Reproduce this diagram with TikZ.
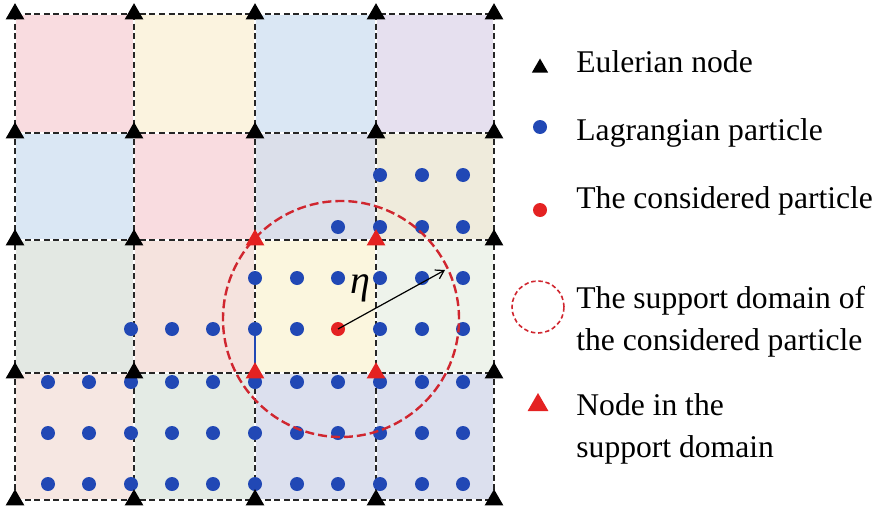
\documentclass[tikz,border=0pt]{standalone}
\usepackage{fontspec}
\setmainfont{Liberation Serif}
\usetikzlibrary{shapes.geometric,arrows.meta}
\definecolor{pblue}{HTML}{2148B5}
\definecolor{pred}{HTML}{E42222}
\definecolor{dred}{HTML}{D0262F}
\definecolor{cpink}{HTML}{F9DCE0}
\definecolor{cyel}{HTML}{FBF3DF}
\definecolor{cblue}{HTML}{DAE7F4}
\definecolor{clav}{HTML}{E6E0EF}
\definecolor{cgblue}{HTML}{DBDFEA}
\definecolor{cbeige}{HTML}{EFEBDC}
\definecolor{cgreen}{HTML}{E3E8E3}
\definecolor{cpeach}{HTML}{F5E3DE}
\definecolor{cyel2}{HTML}{FBF6DE}
\definecolor{cmint}{HTML}{EEF3EB}
\definecolor{cpeach2}{HTML}{F6E7E2}
\definecolor{cgreen2}{HTML}{E4EBE5}
\definecolor{cgblue2}{HTML}{DCE0EE}
\begin{document}
\begin{tikzpicture}[x=0.5pt,y=-0.5pt,
  etri/.style={regular polygon,regular polygon sides=3,fill=black,inner sep=0pt,minimum size=10.8pt},
  rtri/.style={etri,fill=pred},
  part/.style={circle,fill=pblue,inner sep=0pt,minimum size=7pt},
  cpart/.style={part,fill=pred},
  gridline/.style={draw=black!85,line width=0.8pt,dash pattern=on 3pt off 1.8pt},
  suppdom/.style={circle,draw=dred,line width=1.2pt,dash pattern=on 4.5pt off 2pt,inner sep=0pt},
  legtext/.style={anchor=base west,inner sep=0pt,font=\fontsize{15.8}{21}\selectfont,align=left}
]
\useasboundingbox (0,0) rectangle (881,508);
% cells
\foreach \xa/\xb/\ya/\yb/\col in {
  15/134/14/133/cpink, 134/255/14/133/cyel, 255/376/14/133/cblue, 376/494/14/133/clav,
  15/134/133/240/cblue, 134/255/133/240/cpink, 255/376/133/240/cgblue, 376/494/133/240/cbeige,
  15/134/240/373/cgreen, 134/255/240/373/cpeach, 255/376/240/373/cyel2, 376/494/240/373/cmint,
  15/134/373/500/cpeach2, 134/255/373/500/cgreen2, 255/376/373/500/cgblue2, 376/494/373/500/cgblue2}
  \fill[\col] (\xa+1,\ya+1) rectangle (\xb-1,\yb-1);
% grid coordinates
\foreach \x [count=\i] in {15,134,255,376,494}
  \foreach \y [count=\j] in {14,133,240,373,500}
    \coordinate (g-\i-\j) at (\x,\y);
\foreach \i in {1,...,5} {
  \draw[gridline] (g-\i-1) -- (g-\i-5);
  \draw[gridline] (g-1-\i) -- (g-5-\i);
}
% particles
\foreach \x in {380,422,463} \node[part] (pa-\x) at (\x,175) {};
\foreach \x in {338,380,422,463} \node[part] (pb-\x) at (\x,227) {};
\foreach \x in {255,297,338,380,422,463} \node[part] (pc-\x) at (\x,278) {};
\foreach \x in {131,172,213,255,297,380,422,463} \node[part] (pd-\x) at (\x,329) {};
\foreach \y [count=\r] in {382,433,484}
  \foreach \x in {48,89,131,172,213,255,297,338,380,422,463}
    \node[part] (pe-\r-\x) at (\x,\y) {};
\node[cpart] (cp) at (338,329) {};
% support domain
\node[suppdom,minimum size=118pt] (dom) at (341,319) {};
\coordinate (tip) at (445,270);
\draw[line width=0.6pt,-{Straight Barb[length=4pt,width=5pt]}] (cp.center) -- (tip);
\node (eta) at (360,288) {\fontsize{20}{22}\selectfont\itshape η};
% Eulerian nodes
\foreach \i/\j in {1/1,2/1,3/1,4/1,5/1,1/2,2/2,3/2,4/2,5/2,1/3,2/3,5/3,1/4,2/4,5/4,1/5,2/5,3/5,4/5,5/5}
  \node[etri] (e-\i-\j) at (g-\i-\j) {};
\node[rtri] (r-3-3) at (g-3-3) {};
\node[rtri] (r-4-3) at (g-4-3) {};
\draw[pblue,line width=1pt] (pd-255.center) -- (g-3-4);
\node[rtri] (r-3-4) at (g-3-4) {};
\node[rtri] (r-4-4) at (g-4-4) {};
% legend
\node[etri,minimum size=9.5pt] (le) at (540,68) {};
\node[part] (lp) at (540,127) {};
\node[cpart] (lc) at (540,210) {};
\node[suppdom,minimum size=26pt,line width=0.8pt,dash pattern=on 2.2pt off 1.4pt] (ld) at (538,307) {};
\node[rtri,minimum size=12pt] (lr) at (538,405) {};
\node[legtext] (t1) at (576,73) {Eulerian node};
\node[legtext] (t2) at (576,140) {Lagrangian particle};
\node[legtext] (t3) at (576,208) {The considered particle};
\node[legtext] (t4) at (576,350) {The support domain of\\the considered particle};
\node[legtext] (t5) at (576,457) {Node in the\\support domain};
\end{tikzpicture}
\end{document}
